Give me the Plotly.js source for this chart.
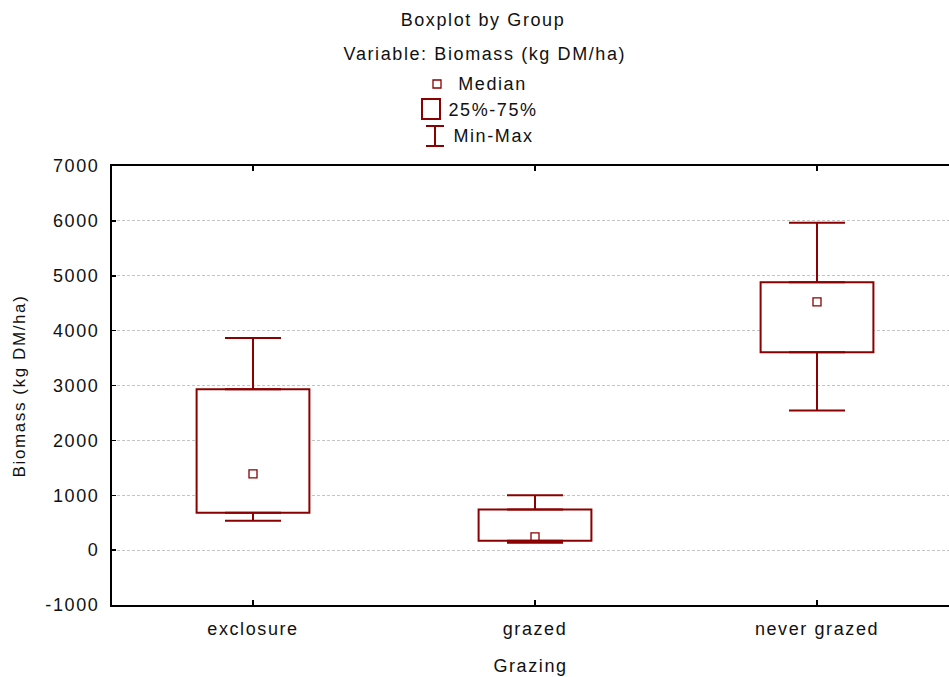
<!DOCTYPE html>
<html>
<head>
<meta charset="utf-8">
<script src="https://cdn.plot.ly/plotly-3.0.1.min.js"></script>
<style>
html,body{margin:0;padding:0;background:#fff;}
#chart{width:949px;height:677px;}
#chart svg text{letter-spacing:1.6px;}
</style>
</head>
<body>
<div id="chart"></div>
<script>
// ---- data ----
var categories = ["exclosure", "grazed", "never grazed"];
var minVals    = [535, 135, 2545];
var q1Vals     = [680, 170, 3605];
var medianVals = [1390, 240, 4525];
var q3Vals     = [2930, 740, 4880];
var maxVals    = [3865, 1000, 5965];
var yTickVals  = [-1000, 0, 1000, 2000, 3000, 4000, 5000, 6000, 7000];
var yTickText  = ["-1000", "0", "1000", "2000", "3000", "4000", "5000", "6000", "7000"];

// ---- styling ----
var RED = "#8b0000";
var FONT = "Liberation Sans, Arial, sans-serif";
var L = 112, T = 166, B = 72, W = 949, H = 677;
var PW = W - L, PH = H - T - B;
function px(x){ return (x - L) / PW; }
function py(y){ return (H - B - y) / PH; }

var xIdx = categories.map(function(c, i){ return i; });

var boxTrace = {
  type: "bar", x: xIdx,
  base: q1Vals,
  y: q3Vals.map(function(v, i){ return v - q1Vals[i]; }),
  width: 0.4,
  marker: {color: "#ffffff", line: {color: RED, width: 2}},
  hoverinfo: "skip", showlegend: false
};
var upperWhisker = {
  type: "scatter", mode: "markers", x: xIdx, y: q3Vals,
  marker: {size: 1, opacity: 0},
  error_y: {type: "data", symmetric: false,
    array: maxVals.map(function(v, i){ return v - q3Vals[i]; }),
    arrayminus: q3Vals.map(function(){ return 0; }),
    color: RED, thickness: 2, width: 28},
  hoverinfo: "skip", showlegend: false
};
var lowerWhisker = {
  type: "scatter", mode: "markers", x: xIdx, y: q1Vals,
  marker: {size: 1, opacity: 0},
  error_y: {type: "data", symmetric: false,
    array: q1Vals.map(function(){ return 0; }),
    arrayminus: q1Vals.map(function(v, i){ return v - minVals[i]; }),
    color: RED, thickness: 2, width: 28},
  hoverinfo: "skip", showlegend: false
};
var medianTrace = {
  type: "scatter", mode: "markers", x: xIdx, y: medianVals,
  marker: {symbol: "square-open", size: 8, color: RED, line: {width: 1.3, color: RED}},
  hoverinfo: "skip", showlegend: false
};

var shapes = [
  {type: "rect", xref: "paper", yref: "paper", xsizemode: "pixel", ysizemode: "pixel",
   xanchor: px(437), yanchor: py(84), x0: -4, x1: 4, y0: -4, y1: 4,
   line: {color: RED, width: 1.3}, fillcolor: "rgba(0,0,0,0)"},
  {type: "rect", xref: "paper", yref: "paper", xsizemode: "pixel", ysizemode: "pixel",
   xanchor: px(431), yanchor: py(109), x0: -9, x1: 9, y0: -10, y1: 10,
   line: {color: RED, width: 2}, fillcolor: "rgba(0,0,0,0)"},
  {type: "line", xref: "paper", yref: "paper", xsizemode: "pixel", ysizemode: "pixel",
   xanchor: px(435), yanchor: py(136), x0: -9, x1: 9, y0: 10, y1: 10,
   line: {color: RED, width: 2}},
  {type: "line", xref: "paper", yref: "paper", xsizemode: "pixel", ysizemode: "pixel",
   xanchor: px(435), yanchor: py(136), x0: -9, x1: 9, y0: -10, y1: -10,
   line: {color: RED, width: 2}},
  {type: "line", xref: "paper", yref: "paper", xsizemode: "pixel", ysizemode: "pixel",
   xanchor: px(435), yanchor: py(136), x0: 0, x1: 0, y0: -10, y1: 10,
   line: {color: RED, width: 2}}
];

var annotations = [
  {text: "Variable: Biomass (kg DM/ha)", xref: "paper", yref: "paper",
   x: px(485), y: py(54), xanchor: "center", yanchor: "middle", showarrow: false,
   font: {family: FONT, size: 18, color: "#111"}},
  {text: "Median", xref: "paper", yref: "paper", x: px(461), y: py(84),
   xanchor: "left", yanchor: "middle", showarrow: false,
   font: {family: FONT, size: 18, color: "#111"}},
  {text: "25%-75%", xref: "paper", yref: "paper", x: px(452), y: py(110),
   xanchor: "left", yanchor: "middle", showarrow: false,
   font: {family: FONT, size: 18, color: "#111"}},
  {text: "Min-Max", xref: "paper", yref: "paper", x: px(457), y: py(136),
   xanchor: "left", yanchor: "middle", showarrow: false,
   font: {family: FONT, size: 18, color: "#111"}},
  {text: "Biomass (kg DM/ha)", xref: "paper", yref: "paper", x: px(19), y: py(386),
   xanchor: "center", yanchor: "middle", textangle: -90, showarrow: false,
   font: {family: FONT, size: 17, color: "#111"}}
];

var xRange = [-0.5, -0.5 + PW / 282];

var layout = {
  width: W, height: H,
  margin: {l: L, r: 0, t: T, b: B, pad: 0},
  paper_bgcolor: "#fff", plot_bgcolor: "#fff",
  font: {family: FONT, size: 18, color: "#111"},
  title: {text: "Boxplot by Group", x: px(483), xref: "paper", xanchor: "center",
          y: 1 - 20 / H, yanchor: "middle", yref: "container",
          font: {family: FONT, size: 18, color: "#111"}},
  showlegend: false,
  barmode: "overlay",
  xaxis: {
    range: xRange, tickmode: "array", tickvals: xIdx, ticktext: categories,
    showline: true, mirror: "ticks", linecolor: "#000", linewidth: 2,
    ticks: "inside", ticklen: 5, tickwidth: 2, tickcolor: "#000",
    showgrid: false, zeroline: false, ticklabelstandoff: 6,
    tickfont: {family: FONT, size: 18, color: "#111"},
    title: {text: "Grazing", font: {family: FONT, size: 18, color: "#111"}, standoff: 22}
  },
  yaxis: {
    range: [-1000, 7000], tickmode: "array", tickvals: yTickVals, ticktext: yTickText,
    showline: true, linecolor: "#000", linewidth: 2,
    ticks: "inside", ticklen: 4, tickwidth: 1.5, tickcolor: "#000",
    showgrid: true, gridcolor: "#c4c4c4", griddash: "3px,2px", gridwidth: 1,
    zeroline: false, ticklabelstandoff: 7,
    tickfont: {family: FONT, size: 18, color: "#111"}
  },
  shapes: shapes,
  annotations: annotations
};

Plotly.newPlot("chart", [boxTrace, upperWhisker, lowerWhisker, medianTrace], layout,
  {displayModeBar: false, staticPlot: true});
</script>
</body>
</html>
